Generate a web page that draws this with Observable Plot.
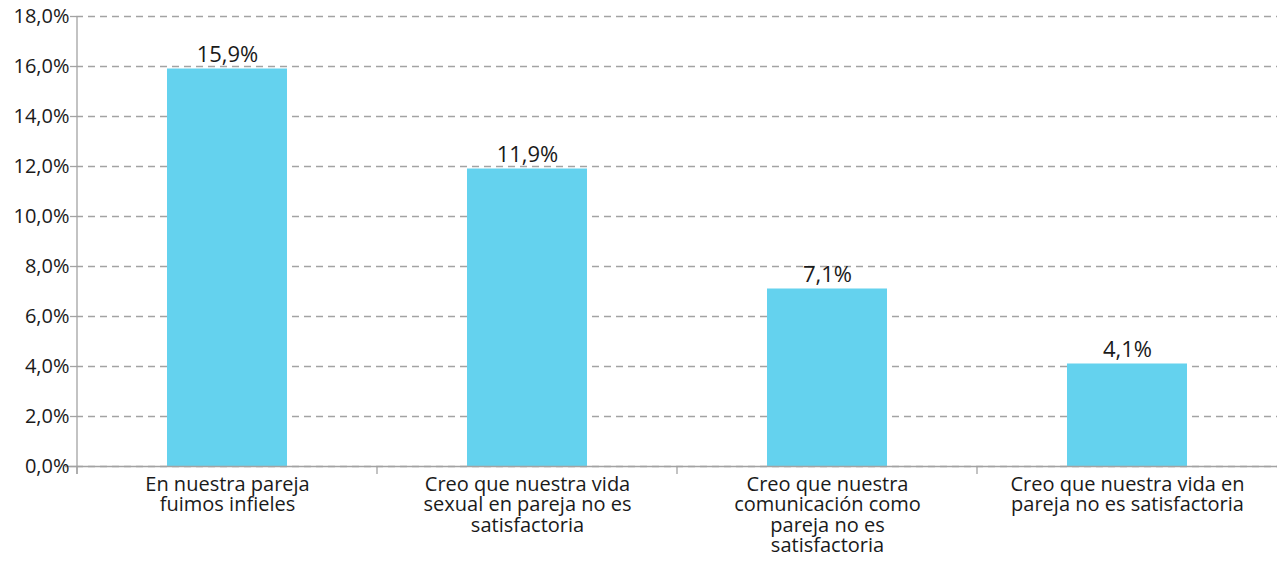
<!DOCTYPE html>
<html>
<head>
<meta charset="utf-8">
<script src="https://cdn.jsdelivr.net/npm/d3@7"></script>
<script src="https://cdn.jsdelivr.net/npm/@observablehq/plot@0.6"></script>
<style>
  html, body { margin: 0; padding: 0; background: #fff; }
  #chart { width: 1277px; height: 564px; }
</style>
</head>
<body>
<div id="chart"></div>
<script>
const categories = [
  "En nuestra pareja fuimos infieles",
  "Creo que nuestra vida sexual en pareja no es satisfactoria",
  "Creo que nuestra comunicación como pareja no es satisfactoria",
  "Creo que nuestra vida en pareja no es satisfactoria"
];
const categoryLabels = [
  "En nuestra pareja\nfuimos infieles",
  "Creo que nuestra vida\nsexual en pareja no es\nsatisfactoria",
  "Creo que nuestra\ncomunicación como\npareja no es\nsatisfactoria",
  "Creo que nuestra vida en\npareja no es satisfactoria"
];
const values = [15.9, 11.9, 7.1, 4.1];
const yTicks = [0, 2, 4, 6, 8, 10, 12, 14, 16, 18];

const data = categories.map((c, i) => ({cat: c, value: values[i]}));
const fmt = v => v.toFixed(1).replace(".", ",") + "%";
const axisGray = "#a3a3a3";
const textColor = "#1a1a1a";

const chart = Plot.plot({
  width: 1277,
  height: 564,
  marginLeft: 76,
  marginRight: 0,
  marginTop: 16,
  marginBottom: 98,
  style: {fontFamily: "'Open Sans', sans-serif", color: textColor, background: "#fff"},
  x: {domain: categories, paddingInner: 0.6, paddingOuter: 0.3, axis: null},
  y: {domain: [0, 18], axis: null},
  marks: [
    Plot.gridY(yTicks, {stroke: axisGray, strokeOpacity: 1, strokeWidth: 1.3, strokeDasharray: "7,5"}),
    Plot.barY(data, {x: "cat", y: "value", fill: "#64D2EE"}),
    Plot.ruleY([0], {stroke: axisGray, strokeWidth: 1.3, insetLeft: -11}),
    Plot.axisY(yTicks, {
      anchor: "left",
      tickSize: 6,
      tickPadding: 1,
      stroke: axisGray,
      strokeWidth: 1.3,
      fontSize: 20,
      fill: textColor,
      tickFormat: fmt,
      label: null
    }),
    Plot.axisX({
      anchor: "bottom",
      tickSize: 0,
      tickPadding: 10,
      fontSize: 20,
      lineHeight: 1.02,
      fill: textColor,
      tickFormat: d => categoryLabels[categories.indexOf(d)],
      label: null
    }),
    Plot.text(data, {
      x: "cat",
      y: "value",
      text: d => fmt(d.value),
      lineAnchor: "bottom",
      dy: -7,
      fontSize: 22,
      fill: textColor
    })
  ]
});

document.getElementById("chart").appendChild(chart);

// axis line and band-boundary ticks derived from Plot's own scales
const xs = chart.scale("x");
const ys = chart.scale("y");
const y0 = ys.apply(0);
const yTop = ys.apply(18);
const gap = (xs.step - xs.bandwidth) / 2;
const svg = d3.select(chart);
const g = svg.append("g").attr("stroke", axisGray).attr("stroke-width", 1.3);
const xLeft = xs.apply(categories[0]) - gap;
g.append("line").attr("x1", xLeft).attr("x2", xLeft).attr("y1", yTop).attr("y2", y0 + 8);
categories.forEach(c => {
  const bx = xs.apply(c) - gap;
  g.append("line").attr("x1", bx).attr("x2", bx).attr("y1", y0).attr("y2", y0 + 8);
});
</script>
</body>
</html>
